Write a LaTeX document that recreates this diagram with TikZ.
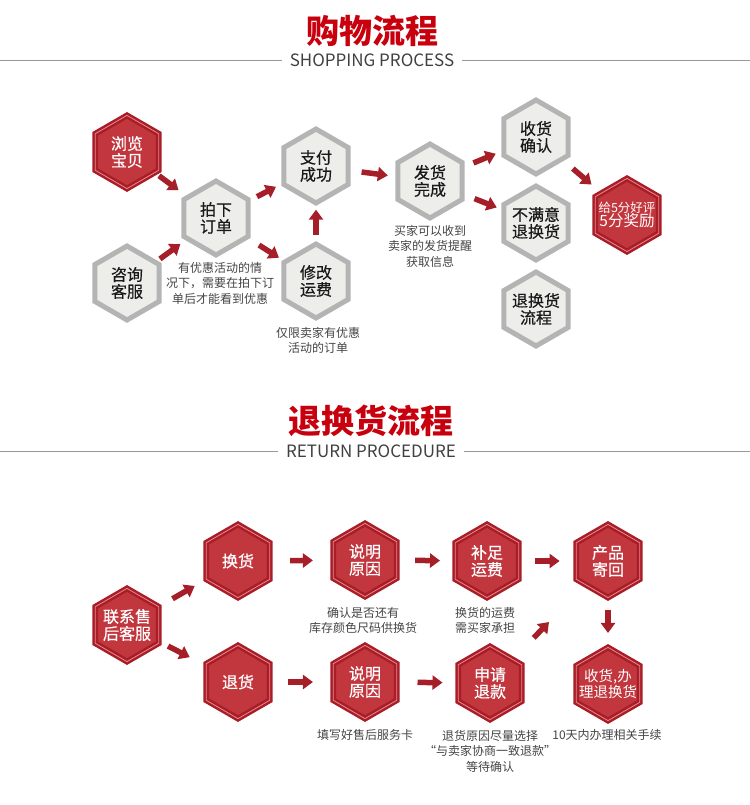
\documentclass[tikz,border=0pt]{standalone}
\usepackage{fontspec}
\setmainfont{Noto Sans CJK SC}
\newfontfamily\hexfont[FakeBold=0.5]{Noto Sans CJK SC}
\usetikzlibrary{shapes.geometric,arrows.meta,calc}
\definecolor{titlered}{HTML}{C8000E}
\definecolor{arrowred}{HTML}{A51E28}
\definecolor{hexred}{HTML}{C2363D}
\definecolor{hexrim}{HTML}{A81D27}
\definecolor{hexline}{HTML}{E98A8C}
\definecolor{hexgray}{HTML}{EDEDEA}
\definecolor{rimgray}{HTML}{B4B4B4}
\definecolor{notegray}{HTML}{444444}
\tikzset{
  hex/.style={regular polygon, regular polygon sides=6, shape border rotate=30,
    inner sep=0pt, align=center, font=\hexfont\fontsize{16bp}{17bp}\selectfont},
  greyhex/.style={hex, minimum size=74bp, fill=hexgray, draw=rimgray, line width=5bp, text=black!90},
  redhex/.style={hex, minimum size=73.2bp, fill=hexred, draw=hexrim, line width=2.5bp,
    double=hexline, double distance=0.8bp, text=white},
  arr/.style={draw=arrowred, line width=5.5bp, -{Triangle[width=14bp,length=10bp]}},
  note/.style={align=center, text=notegray, font=\fontsize{12bp}{15.5bp}\selectfont},
  headline/.style={text=titlered, font=\fontsize{33bp}{36bp}\selectfont\bfseries},
  subline/.style={text=black!75, inner xsep=8bp, font=\fontsize{17bp}{18bp}\selectfont},
  rule/.style={draw=black!40, line width=0.8bp}
}
\newcommand{\tight}[1]{\makebox[0pt]{#1}}
\begin{document}
\begin{tikzpicture}[x=1bp,y=-1bp]
  \useasboundingbox (0,0) rectangle (750,805);
  % shopping process
  \node[headline] (shoptitle) at (372,31) {购物流程};
  \node[subline] (shopsub) at (372,60) {SHOPPING PROCESS};
  \draw[rule] (0,60) -- (shopsub.west);
  \draw[rule] (shopsub.east) -- (750,60);

  \node[redhex] (browse) at (127,152) {浏览\\宝贝};
  \node[greyhex] (order) at (216,218) {拍下\\订单};
  \node[greyhex] (consult) at (127,283) {咨询\\客服};
  \node[greyhex] (paid) at (316,166) {支付\\成功};
  \node[greyhex] (fee) at (316,281) {修改\\运费};
  \node[greyhex] (shipped) at (430,181) {发货\\完成};
  \node[greyhex] (receive) at (536,137) {收货\\确认};
  \node[greyhex] (unhappy) at (536,223) {\tight{不满意}\\\tight{退换货}};
  \node[greyhex] (returnflow) at (536,309) {\tight{退换货}\\\tight{流程}};
  \node[redhex, font=\fontsize{14bp}{14.5bp}\selectfont] (review) at (627,215)
    {\tight{\fontsize{12.5bp}{14bp}\selectfont 给5分好评}\\\tight{\fontsize{15.5bp}{15bp}\selectfont 5分奖励}};

  \node[note] (ordernote) at (220,283) {有优惠活动的情\\况下，需要在拍下订\\单后才能看到优惠};
  \node[note] (feenote) at (318,340.5) {仅限卖家有优惠\\活动的订单};
  \node[note] (shipnote) at (430,246) {买家可以收到\\卖家的发货提醒\\获取信息};

  \draw[arr] ($(browse)!0.36!(order)$) -- ($(browse)!0.58!(order)$);
  \draw[arr] ($(consult)!0.37!(order)$) -- ($(consult)!0.60!(order)$);
  \draw[arr] ($(order)!0.41!(paid)$) -- ($(order)!0.60!(paid)$);
  \draw[arr] ($(order)!0.43!(fee)$) -- ($(order)!0.63!(fee)$);
  \draw[arr] ($(fee)!0.40!(paid)$) -- ($(fee)!0.62!(paid)$);
  \draw[arr] ($(paid)!0.40!(shipped)$) -- ($(paid)!0.63!(shipped)$);
  \draw[arr] ($(shipped)!0.41!(receive)$) -- ($(shipped)!0.62!(receive)$);
  \draw[arr] ($(shipped)!0.42!(unhappy)$) -- ($(shipped)!0.63!(unhappy)$);
  \draw[arr] ($(receive)!0.405!(review)$) -- ($(receive)!0.61!(review)$);

  % return procedure
  \node[headline] (backtitle) at (371,421) {退换货流程};
  \node[subline] (backsub) at (371,451) {RETURN PROCEDURE};
  \draw[rule] (0,451) -- (backsub.west);
  \draw[rule] (backsub.east) -- (750,451);

  \node[redhex] (service) at (127,625) {\tight{联系售}\\\tight{后客服}};
  \node[redhex] (exchange) at (238,561) {换货};
  \node[redhex] (refund) at (238,682) {退货};
  \node[redhex] (reasonA) at (365,560) {说明\\原因};
  \node[redhex] (postage) at (487,561) {补足\\运费};
  \node[redhex] (reasonB) at (365,682) {说明\\原因};
  \node[redhex] (apply) at (490,683) {申请\\退款};
  \node[redhex] (sendback) at (608,561) {产品\\寄回};
  \node[redhex, font=\fontsize{14.5bp}{16.5bp}\selectfont] (finish) at (608,684)
    {\tight{收货,办}\\\tight{理退换货}};

  \node[note] (stocknote) at (363,620.5) {确认是否还有\\库存颜色尺码供换货};
  \node[note] (postnote) at (485,620.5) {换货的运费\\需买家承担};
  \node[note] (cardnote) at (365,735) {填写好售后服务卡};
  \node[note] (applynote) at (490,751) {退货原因尽量选择\\“与卖家协商一致退款”\\等待确认};
  \node[note] (finishnote) at (607,735) {10天内办理相关手续};

  \draw[arr] ($(service)!0.41!(exchange)$) -- ($(service)!0.61!(exchange)$);
  \draw[arr] ($(service)!0.37!(refund)$) -- ($(service)!0.565!(refund)$);
  \draw[arr] ($(exchange)!0.41!(reasonA)$) -- ($(exchange)!0.59!(reasonA)$);
  \draw[arr] ($(refund)!0.39!(reasonB)$) -- ($(refund)!0.59!(reasonB)$);
  \draw[arr] ($(reasonA)!0.41!(postage)$) -- ($(reasonA)!0.615!(postage)$);
  \draw[arr] ($(reasonB)!0.42!(apply)$) -- ($(reasonB)!0.62!(apply)$);
  \draw[arr] ($(postage)!0.40!(sendback)$) -- ($(postage)!0.60!(sendback)$);
  \draw[arr] ($(apply)!0.37!(sendback)$) -- ($(apply)!0.50!(sendback)$);
  \draw[arr] ($(sendback)!0.40!(finish)$) -- ($(sendback)!0.585!(finish)$);
\end{tikzpicture}
\end{document}
